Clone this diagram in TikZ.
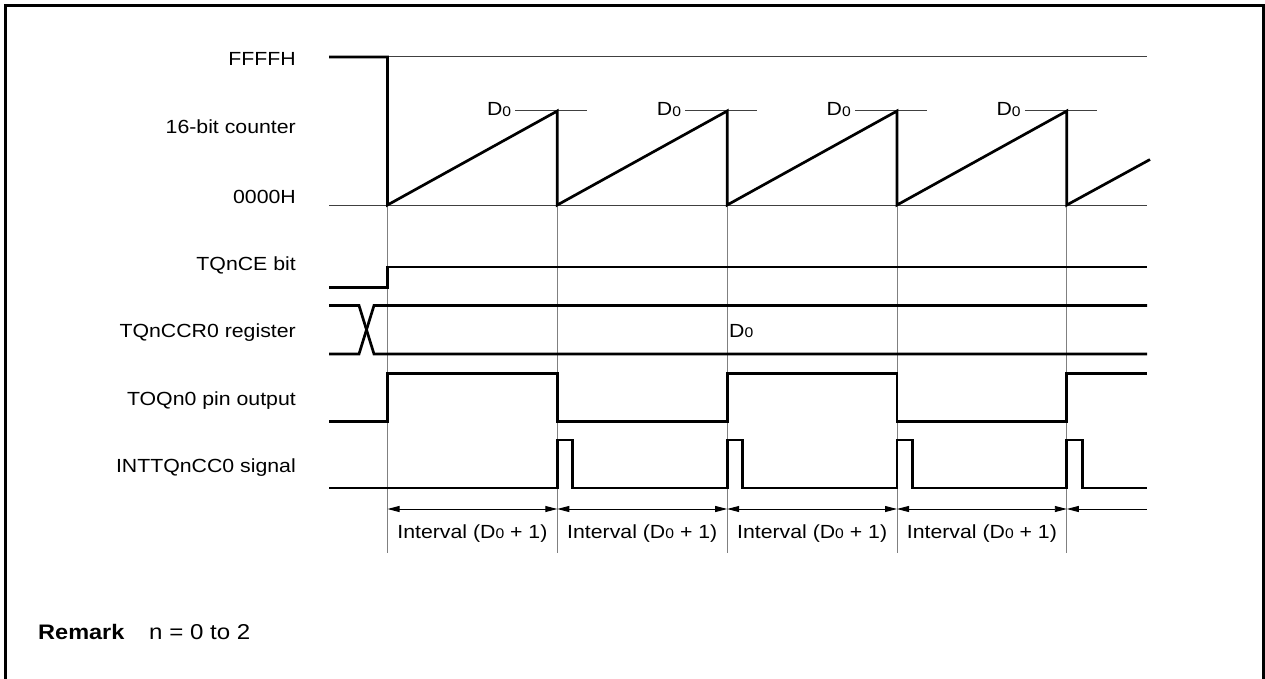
\documentclass[tikz,border=0pt]{standalone}
\usepackage{fontspec}
\setmainfont{Liberation Sans}[FakeStretch=1.12]
\usetikzlibrary{arrows.meta}
\newcommand\Dzero{D\raisebox{-0.6pt}{\fontsize{14}{14}\selectfont 0}}
\begin{document}
\begin{tikzpicture}[x=1pt,y=-1pt,
  sig/.style={line width=2.7pt,line join=miter,line cap=butt},
  ref/.style={line width=1pt,black!75},
  grid/.style={line width=1pt,black!50},
  lbl/.style={anchor=base east,inner sep=0pt,font=\fontsize{19}{22}\selectfont},
  dlbl/.style={anchor=base east,inner sep=0pt,font=\fontsize{19}{22}\selectfont},
  ivl/.style={anchor=base,inner sep=0pt,font=\fontsize{19}{22}\selectfont},
  dim/.style={line width=0.9pt,{Triangle[length=12pt,width=6pt]}-{Triangle[length=12pt,width=6pt]}}]
\useasboundingbox (0,0) rectangle (1265,679);
% frame
\draw[line width=3pt] (5.5,679) -- (5.5,5.5) -- (1263,5.5) -- (1263,679);

% labels
\node[lbl] (lf) at (296,66) {FFFFH};
\node[lbl] (lc) at (296,134) {16-bit counter};
\node[lbl] (l0) at (296,203) {0000H};
\node[lbl] (lce) at (296,270) {TQnCE bit};
\node[lbl] (lccr) at (296,337) {TQnCCR0 register};
\node[lbl] (lto) at (296,405) {TOQn0 pin output};
\node[lbl] (lint) at (296,472) {INTTQnCC0 signal};

% reference lines
\draw[ref] (387.5,57) -- (1147,57);
\draw[ref] (329,205) -- (1147,205);
\foreach \v in {387.5,557.3,727.2,897,1066.8}
  \draw[grid] (\v,205) -- (\v,553);

% D0 levels
\foreach \v in {557.3,727.2,897,1066.8}{
  \draw[ref] (\v-42,111) -- (\v+30,111);
  \node[dlbl] at (\v-46,116) {\Dzero};
}

% counter
\draw[sig] (329,57) -- (387.5,57) -- (387.5,205) -- (557.3,111) -- (557.3,205)
  -- (727.2,111) -- (727.2,205) -- (897,111) -- (897,205) -- (1066.8,111)
  -- (1066.8,205) -- (1150,159.5);

% TQnCE
\draw[sig] (329,287.5) -- (387.5,287.5) -- (387.5,267) -- (1147,267);

% TQnCCR0
\draw[sig] (329,305.5) -- (359,305.5) -- (374,354) -- (1147,354);
\draw[sig] (329,354) -- (359,354) -- (374,305.5) -- (1147,305.5);
\node[anchor=base west,inner sep=0pt,font=\fontsize{19}{22}\selectfont] (d0) at (729,337) {\Dzero};

% TOQn0
\draw[sig] (329,421.5) -- (387.5,421.5) -- (387.5,373.3) -- (557.3,373.3) -- (557.3,421.5)
  -- (727.2,421.5) -- (727.2,373.3) -- (897,373.3) -- (897,421.5) -- (1066.8,421.5)
  -- (1066.8,373.3) -- (1147,373.3);

% INTTQnCC0
\draw[sig] (329,488) -- (557.3,488) -- (557.3,440) -- (572.8,440) -- (572.8,488)
  -- (727.2,488) -- (727.2,440) -- (742.7,440) -- (742.7,488)
  -- (897,488) -- (897,440) -- (912.5,440) -- (912.5,488)
  -- (1066.8,488) -- (1066.8,440) -- (1082.3,440) -- (1082.3,488) -- (1147,488);

% intervals
\foreach \a/\b in {387.5/557.3,557.3/727.2,727.2/897,897/1066.8}{
  \draw[dim] (\a,509) -- (\b,509);
  \node[ivl] at ({(\a+\b)/2},538) {Interval (\Dzero\ + 1)};
}
\draw[line width=0.9pt,{Triangle[length=12pt,width=6pt]}-] (1066.8,509) -- (1147,509);

% remark
\node[anchor=base west,inner sep=0pt,font=\fontsize{21}{25}\selectfont\bfseries] (rm) at (38,639) {Remark};
\node[anchor=base west,inner sep=0pt,font=\fontsize{21.5}{25}\selectfont] (rt) at (149,639) {n = 0 to 2};
\end{tikzpicture}
\end{document}
